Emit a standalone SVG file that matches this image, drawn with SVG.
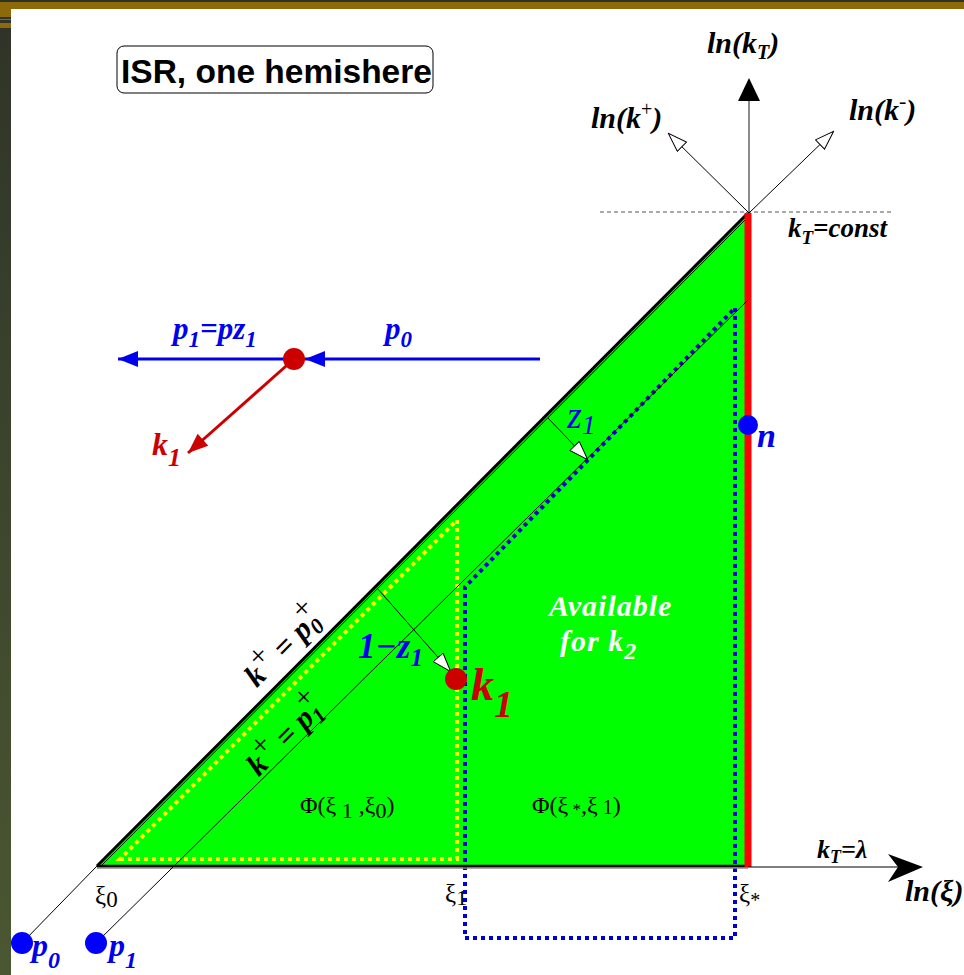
<svg xmlns="http://www.w3.org/2000/svg" width="964" height="975" viewBox="0 0 964 975">
<style>
.m{font-family:"Liberation Serif","Times New Roman",serif;font-weight:bold;font-style:italic}
.r{font-family:"Liberation Serif","Times New Roman",serif}
.pl{font-style:normal;font-weight:normal}
.blue{fill:#0000ee}
.red{fill:#cc0000}
.thin{stroke:#000;stroke-width:1;fill:none}
</style>
<defs>
<linearGradient id="side" x1="0" y1="0" x2="0" y2="1">
<stop offset="0" stop-color="#2f3328"/>
<stop offset="1" stop-color="#4b5732"/>
</linearGradient>
<marker id="open" viewBox="0 0 20 14" refX="20" refY="7" markerWidth="20" markerHeight="14" markerUnits="userSpaceOnUse" orient="auto">
<path d="M0.5,0.5 L19.5,7 L0.5,13.5 Z" fill="#fff" stroke="#000" stroke-width="1"/>
</marker>
<marker id="blueHead" viewBox="0 0 20 16" refX="20" refY="8" markerWidth="20" markerHeight="16" markerUnits="userSpaceOnUse" orient="auto">
<path d="M0,0 L20,8 L0,16 Z" fill="#0000ee"/>
</marker>
<marker id="redHead" viewBox="0 0 20 16" refX="20" refY="8" markerWidth="22" markerHeight="16" markerUnits="userSpaceOnUse" orient="auto">
<path d="M0,0 L20,8 L0,16 Z" fill="#cc0000"/>
</marker>
</defs>

<!-- frame -->
<rect x="0" y="0" width="964" height="975" fill="#ffffff"/>
<rect x="0" y="0" width="11" height="975" fill="url(#side)"/>
<rect x="0" y="0" width="964" height="2" fill="#2e3127"/>
<rect x="0" y="2" width="964" height="7" fill="#8c6a0a"/>
<rect x="0" y="9" width="11" height="8" fill="#8c6a0a"/>
<rect x="0" y="19" width="11" height="1" fill="#8c6a0a"/>
<rect x="0" y="23" width="11" height="5" fill="#8c6a0a"/>

<!-- regions -->
<g id="phase-space">
<polygon points="97,866 748,213 748,866" fill="#00ff00"/>
<path d="M120,859 L457,859 L457,520 Z" fill="none" stroke="#ffff00" stroke-width="4" stroke-dasharray="4,4"/>
<path d="M735,308 L735,938 L465,938 L465,587 Z" fill="none" stroke="#0000cc" stroke-width="4" stroke-dasharray="4,4"/>
<line x1="97" y1="866" x2="748" y2="213" stroke="#000" stroke-width="3"/>
<line x1="101" y1="866" x2="748" y2="217" stroke="#000" stroke-width="1"/>
<line x1="97" y1="868" x2="748" y2="868" stroke="#888" stroke-width="1.5"/>
<line x1="97" y1="866" x2="748" y2="866" stroke="#000" stroke-width="2.5"/>
<line x1="748" y1="213" x2="748" y2="867" stroke="#ff0000" stroke-width="7"/>
</g>

<g id="connectors">
<!-- axes -->
<line x1="600" y1="212" x2="893" y2="212" stroke="#555" stroke-width="1" stroke-dasharray="4,3"/>
<line x1="749" y1="213" x2="749" y2="98" stroke="#666" stroke-width="1.5"/>
<polygon points="749,78 738,101 760,101" fill="#000"/>
<line x1="749" y1="213" x2="668" y2="133" class="thin" marker-end="url(#open)"/>
<line x1="749" y1="213" x2="834" y2="131" class="thin" marker-end="url(#open)"/>
<line x1="748" y1="867" x2="900" y2="867" stroke="#000" stroke-width="1.2"/>
<polygon points="923,867 888,854 898,867 888,882" fill="#000"/>
<!-- p0 and p1 lines -->
<line x1="22" y1="943" x2="97" y2="866" stroke="#000" stroke-width="1"/>
<line x1="96" y1="943" x2="748" y2="300" stroke="#000" stroke-width="1"/>
<!-- z arrows -->
<line x1="548" y1="418" x2="588" y2="460" class="thin" marker-end="url(#open)"/>
<line x1="377" y1="588" x2="451" y2="672" class="thin" marker-end="url(#open)"/>
<!-- splitting sketch -->
<line x1="540" y1="359" x2="305" y2="359" stroke="#0000ee" stroke-width="3" marker-end="url(#blueHead)"/>
<line x1="294" y1="359" x2="118" y2="359" stroke="#0000ee" stroke-width="3" marker-end="url(#blueHead)"/>
<line x1="294" y1="359" x2="188" y2="453" stroke="#cc0000" stroke-width="3" marker-end="url(#redHead)"/>
</g>

<g id="title">
<rect x="117" y="46" width="316" height="47" rx="7" fill="#fff" stroke="#000" stroke-width="1"/>
<text x="121" y="83" font-family="'Liberation Sans',Arial,sans-serif" font-weight="bold" font-size="33.5" fill="#000">ISR, one hemishere</text>
</g>

<g id="axis-labels">
<text class="m" x="707" y="53" font-size="30">ln(k<tspan font-size="20" dy="6">T</tspan><tspan dy="-6">)</tspan></text>
<text class="m" x="591" y="128" font-size="30">ln(k<tspan class="pl" font-size="20" dy="-12">+</tspan><tspan dy="12">)</tspan></text>
<text class="m" x="849" y="120" font-size="30">ln(k<tspan class="pl" font-size="22" dy="-12">-</tspan><tspan dy="12">)</tspan></text>
<text class="m" x="788" y="237" font-size="27">k<tspan font-size="19" dy="7">T</tspan><tspan dy="-7">=const</tspan></text>
<text class="m" x="817" y="858" font-size="26">k<tspan font-size="18" dy="5">T</tspan><tspan dy="-5">=λ</tspan></text>
<text class="m" x="905" y="901" font-size="30">ln(ξ)</text>
<text class="r" x="95" y="904" font-size="25">ξ<tspan font-size="23" dy="3">0</tspan></text>
<text class="r" x="445" y="902" font-size="25">ξ<tspan font-size="22" dy="3">1</tspan></text>
<text class="r" x="739" y="902" font-size="25">ξ<tspan font-size="20" dy="5">*</tspan></text>
</g>

<g id="region-labels">
<text class="r" x="300" y="813" font-size="24">Φ(ξ<tspan font-size="22" dy="5"> 1</tspan><tspan dy="-5"> ,ξ</tspan><tspan font-size="22" dy="5">0</tspan><tspan dy="-5">)</tspan></text>
<text class="r" x="532" y="813" font-size="24">Φ(ξ<tspan font-size="17" dy="2"> *</tspan><tspan dy="-2">,ξ</tspan><tspan font-size="20" dy="1"> 1</tspan><tspan dy="-1">)</tspan></text>
<text class="m" x="549" y="616" font-size="30" fill="#fff" letter-spacing="1">Available</text>
<text class="m" x="560" y="651" font-size="30" fill="#fff" letter-spacing="1">for k<tspan font-size="24" dy="8">2</tspan></text>
<text class="m" transform="translate(291,654) rotate(-45)" text-anchor="middle" font-size="31">k<tspan class="pl" font-size="30" dy="-12">+</tspan><tspan dy="12"> = p</tspan><tspan font-size="22" dy="6">0</tspan><tspan class="pl" font-size="30" dx="-12" dy="-21">+</tspan></text>
<text class="m" transform="translate(293,743) rotate(-45)" text-anchor="middle" font-size="31">k<tspan class="pl" font-size="30" dy="-12">+</tspan><tspan dy="12"> = p</tspan><tspan font-size="22" dy="6">1</tspan><tspan class="pl" font-size="30" dx="-12" dy="-21">+</tspan></text>
<text class="r blue" x="567" y="428" font-size="38" font-style="italic">z<tspan font-size="28" dy="6">1</tspan></text>
<text class="m blue" x="358" y="658" font-size="35">1−z<tspan font-size="26" dy="8">1</tspan></text>
</g>

<g id="node-k1">
<circle cx="456" cy="679" r="11" fill="#cc0000"/>
<text class="m red" x="471" y="700" font-size="46">k<tspan font-size="38" dy="17">1</tspan></text>
</g>

<g id="node-n">
<circle cx="748" cy="425" r="10" fill="#0000ff"/>
<text class="m blue" x="757" y="447" font-size="34">n</text>
</g>

<g id="node-p0">
<circle cx="22" cy="943" r="11" fill="#0000ff"/>
<text class="m blue" x="32" y="956" font-size="32">p<tspan font-size="24" dy="12">0</tspan></text>
</g>

<g id="node-p1">
<circle cx="96" cy="943" r="11" fill="#0000ff"/>
<text class="m blue" x="109" y="956" font-size="32">p<tspan font-size="24" dy="12">1</tspan></text>
</g>

<g id="node-vertex">
<circle cx="294" cy="359" r="11" fill="#cc0000"/>
<text class="m blue" x="173" y="339" font-size="31">p<tspan font-size="23" dy="8">1</tspan><tspan dy="-8">=pz</tspan><tspan font-size="23" dy="8">1</tspan></text>
<text class="m blue" x="385" y="339" font-size="31">p<tspan font-size="23" dy="8">0</tspan></text>
<text class="m red" x="152" y="455" font-size="32">k<tspan font-size="26" dy="11">1</tspan></text>
</g>
</svg>
